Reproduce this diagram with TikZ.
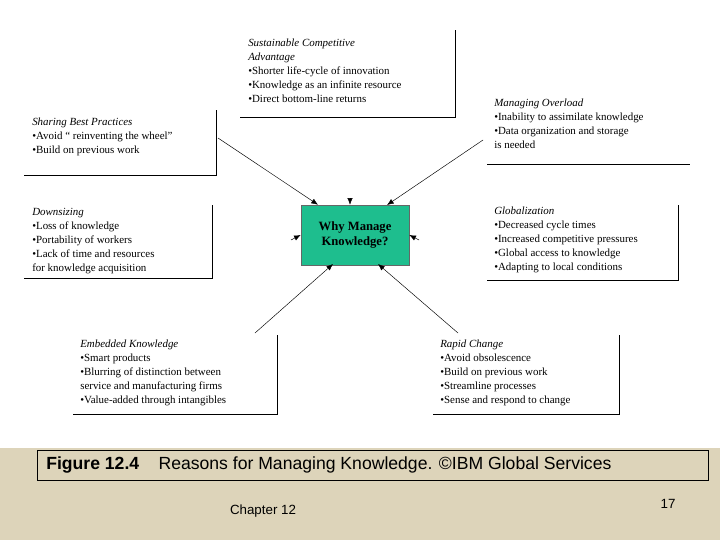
\documentclass[tikz,border=0pt]{standalone}
\usepackage{fontspec}
\setmainfont{Liberation Serif}
\newfontfamily\capfont{Liberation Sans}
\usetikzlibrary{arrows.meta}
\definecolor{band}{RGB}{221,212,186}
\definecolor{teal}{RGB}{30,190,142}
\tikzset{
 txt/.style={anchor=north west,align=left,inner sep=0pt,font=\fontsize{8.2}{10.5}\selectfont},
 edge/.style={line width=0.5pt,black},
 conn/.style={line width=0.35pt,-{Latex[length=5pt,width=4pt]}},
}
\begin{document}
\begin{tikzpicture}[x=0.75pt,y=-0.75pt]
\useasboundingbox (0,0) rectangle (720,540);
\fill[white] (0,0) rectangle (720,540);
\fill[band] (0,448) rectangle (720,540);
\node[draw,line width=0.6pt,minimum width=671*0.75pt,minimum height=30*0.75pt,anchor=north west,inner sep=0pt] (cap) at (37,450) {};
\node[anchor=west,inner sep=0pt,font=\capfont\fontsize{13.2}{15}\selectfont] (capt) at (46,465) {\textbf{Figure 12.4}\hspace{1.1em}Reasons for Managing Knowledge. ©IBM Global Services};
\node[font=\capfont\fontsize{10}{12}\selectfont] (chap) at (263,511) {Chapter 12};
\node[font=\capfont\fontsize{10}{12}\selectfont] (pg) at (668,504) {17};
% box borders
\draw[edge] (455,30) -- (455,117) -- (240,117);
\draw[edge] (216,110) -- (216,175) -- (24,175);
\draw[edge] (487,164) -- (690,164);
\draw[edge] (212,205) -- (212,278) -- (24,278);
\draw[edge] (678,205) -- (678,280) -- (487,280);
\draw[edge] (277,335) -- (277,414) -- (73,414);
\draw[edge] (619,335) -- (619,414) -- (433,414);
% texts
\node[txt] (sca) at (248,39) {\textit{Sustainable Competitive}\\\textit{Advantage}\\•Shorter life-cycle of innovation\\•Knowledge as an infinite resource\\•Direct bottom-line returns};
\node[txt] (sbp) at (32,118) {\textit{Sharing Best Practices}\\•Avoid “ reinventing the wheel”\\•Build on previous work};
\node[txt] (mo) at (494,99) {\textit{Managing Overload}\\•Inability to assimilate knowledge\\•Data organization and storage\\is needed};
\node[txt] (ds) at (32,208) {\textit{Downsizing}\\•Loss of knowledge\\•Portability of workers\\•Lack of time and resources\\ for knowledge acquisition};
\node[txt] (gl) at (494,207) {\textit{Globalization}\\•Decreased cycle times\\•Increased competitive pressures\\•Global access to knowledge\\•Adapting to local conditions};
\node[txt] (ek) at (80,340) {\textit{Embedded Knowledge}\\•Smart products\\•Blurring of distinction between\\ service and manufacturing firms\\•Value-added through intangibles};
\node[txt] (rc) at (440,340) {\textit{Rapid Change}\\•Avoid obsolescence\\•Build on previous work\\•Streamline processes\\•Sense and respond to change};
% center
\node[draw=black!60,fill=teal,line width=0.4pt,minimum width=108*0.75pt,minimum height=60*0.75pt,inner sep=0pt,align=center,font=\bfseries\fontsize{9.5}{11}\selectfont] (why) at (355,235) {Why Manage\\Knowledge?};
% connectors
\coordinate (a1) at (218,138);
\coordinate (a2) at (483,140);
\coordinate (a3) at (255,333);
\coordinate (a4) at (458,333);
\coordinate (a5) at (350,199);
\coordinate (a6) at (291,240);
\coordinate (a7) at (419,240);
\draw[conn] (a1) -- (why.north west -| 318,0) ;
\draw[conn] (a2) -- (387,205);
\draw[conn] (a3) -- (333,264);
\draw[conn] (a4) -- (378,264);
\draw[conn] (a5) -- (why.north -| 350,0);
\draw[conn] (a6) -- (why.west);
\draw[conn] (a7) -- (why.east);
\end{tikzpicture}
\end{document}
